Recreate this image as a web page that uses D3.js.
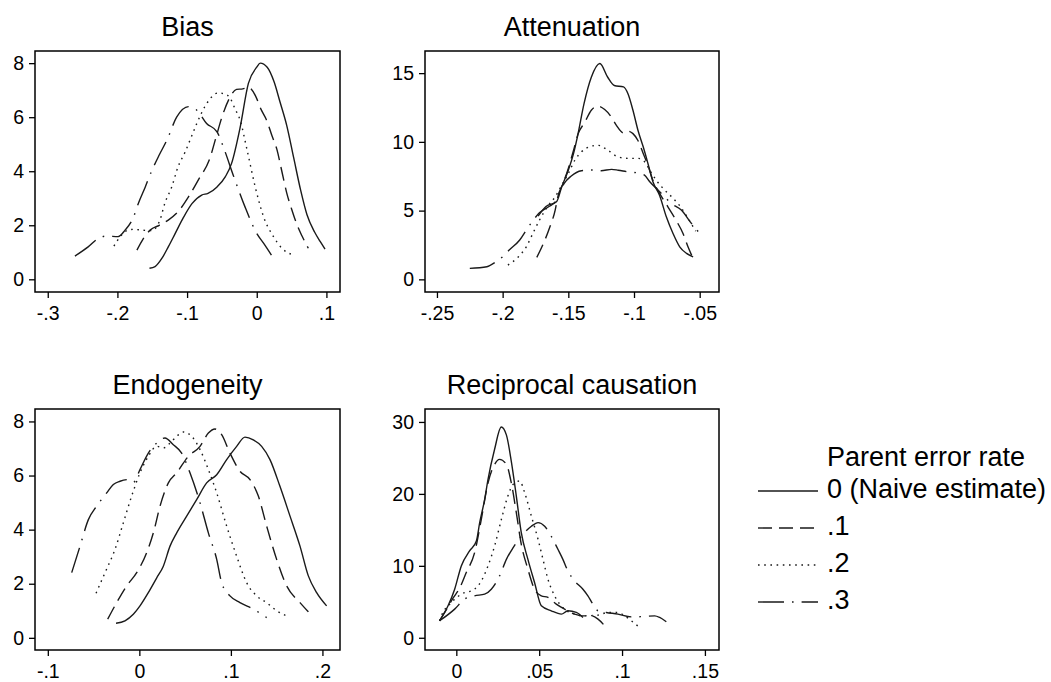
<!DOCTYPE html>
<html lang="en">
<head>
<meta charset="utf-8">
<title>Kernel densities by parent error rate</title>
<script src="https://cdn.jsdelivr.net/npm/d3@7"></script>
<style>
  body { margin: 0; background: #fff; }
  svg { display: block; }
  text { font-family: "Liberation Sans", Arial, Helvetica, sans-serif; fill: #000; }
  .tick text { font-size: 19.5px; }
  .tick line { stroke: #000; stroke-width: 1.3px; }
  .title { font-size: 27px; text-anchor: middle; }
  .legend text { font-size: 27px; }
</style>
</head>
<body>
<script>

// Size of the whole picture
var w = 1051;
var h = 682;

// Series labels (parent error rate)
var rateLabels = ["0 (Naive estimate)", ".1", ".2", ".3"];
var legendTitle = "Parent error rate";
var panelTitles = ["Bias", "Attenuation", "Endogeneity", "Reciprocal causation"];

// Bias: [estimate, density]
var biasRate0 = [[-0.154,0.41],[-0.146,0.47],[-0.136,0.78],[-0.127,1.2],[-0.117,1.7],[-0.105,2.3],[-0.093,2.8],[-0.079,3.12],[-0.07,3.18],[-0.057,3.42],[-0.045,3.8],[-0.036,4.3],[-0.024,5.6],[-0.012,7.25],[0.0,7.85],[0.005,8.0],[0.015,7.85],[0.025,7.3],[0.033,6.6],[0.043,5.7],[0.053,4.5],[0.063,3.3],[0.072,2.4],[0.083,1.75],[0.091,1.4],[0.098,1.12]];
var biasRate1 = [[-0.172,1.08],[-0.163,1.5],[-0.153,1.82],[-0.14,2.0],[-0.127,2.19],[-0.113,2.5],[-0.098,3.05],[-0.084,3.67],[-0.067,4.5],[-0.058,5.3],[-0.05,6.0],[-0.038,6.76],[-0.029,7.03],[-0.02,7.05],[-0.012,7.1],[-0.002,6.8],[0.006,6.3],[0.014,5.9],[0.022,5.3],[0.029,4.8],[0.036,4.0],[0.043,3.2],[0.05,2.6],[0.057,2.07],[0.065,1.6],[0.074,1.15]];
var biasRate2 = [[-0.205,1.23],[-0.194,1.64],[-0.185,1.82],[-0.177,1.85],[-0.165,1.82],[-0.151,1.8],[-0.139,2.19],[-0.132,2.81],[-0.122,3.42],[-0.113,4.16],[-0.103,4.7],[-0.095,5.2],[-0.086,5.77],[-0.072,6.5],[-0.055,6.9],[-0.045,6.85],[-0.038,6.7],[-0.031,6.3],[-0.024,5.9],[-0.014,4.8],[-0.002,3.4],[0.01,2.3],[0.024,1.58],[0.036,1.15],[0.05,0.92]];
var biasRate3 = [[-0.261,0.86],[-0.242,1.2],[-0.227,1.52],[-0.215,1.6],[-0.199,1.58],[-0.189,1.82],[-0.177,2.3],[-0.17,2.81],[-0.16,3.42],[-0.151,4.0],[-0.14,4.6],[-0.129,5.15],[-0.115,6.0],[-0.098,6.39],[-0.086,6.26],[-0.072,5.77],[-0.057,5.46],[-0.048,4.9],[-0.033,3.8],[-0.017,2.69],[0.0,1.7],[0.01,1.33],[0.022,0.86]];

// Attenuation
var attenRate0 = [[-0.173,4.6],[-0.167,5.3],[-0.159,5.64],[-0.155,6.73],[-0.15,7.94],[-0.146,9.16],[-0.143,10.4],[-0.138,12.8],[-0.1325,14.7],[-0.126,15.7],[-0.12,14.7],[-0.115,14.1],[-0.108,14.0],[-0.1046,13.5],[-0.1008,12.3],[-0.097,10.85],[-0.093,9.64],[-0.0894,8.43],[-0.0856,7.1],[-0.0805,6.1],[-0.0754,4.55],[-0.0703,3.34],[-0.0652,2.37],[-0.06,1.89],[-0.055,1.64]];
var attenRate1 = [[-0.174,1.6],[-0.169,2.6],[-0.164,3.82],[-0.16,5.04],[-0.158,6.0],[-0.154,6.98],[-0.15,8.07],[-0.146,9.4],[-0.1425,10.6],[-0.1376,11.4],[-0.1325,12.3],[-0.1274,12.6],[-0.1223,12.35],[-0.1172,11.8],[-0.1134,11.2],[-0.108,10.65],[-0.1046,10.78],[-0.1008,10.6],[-0.097,10.1],[-0.093,9.16],[-0.0894,8.3],[-0.0856,7.2],[-0.0805,6.25],[-0.0742,5.28],[-0.068,4.3],[-0.0627,3.34],[-0.0589,2.37],[-0.0559,1.7]];
var attenRate2 = [[-0.196,1.04],[-0.188,1.64],[-0.182,2.37],[-0.177,3.34],[-0.172,4.3],[-0.165,5.4],[-0.16,6.0],[-0.155,6.85],[-0.15,7.7],[-0.145,8.67],[-0.14,9.27],[-0.132,9.7],[-0.1274,9.75],[-0.12,9.4],[-0.112,8.9],[-0.1046,8.8],[-0.097,8.8],[-0.0919,8.55],[-0.088,7.94],[-0.083,7.2],[-0.0767,6.5],[-0.0703,5.9],[-0.064,5.2],[-0.058,4.3],[-0.053,3.5]];
var attenRate3 = [[-0.225,0.8],[-0.212,0.92],[-0.205,1.28],[-0.2,1.64],[-0.195,2.13],[-0.187,2.86],[-0.182,3.58],[-0.177,4.26],[-0.172,4.84],[-0.165,5.28],[-0.16,5.64],[-0.157,6.25],[-0.153,7.0],[-0.148,7.5],[-0.14,7.9],[-0.132,7.95],[-0.125,7.9],[-0.117,8.0],[-0.112,7.94],[-0.1046,7.82],[-0.098,7.75],[-0.092,7.58],[-0.088,7.1],[-0.0818,6.5],[-0.0767,6.0],[-0.0716,5.52],[-0.064,5.04],[-0.0563,4.07],[-0.0487,3.2]];

// Endogeneity
var endoRate0 = [[-0.0255,0.54],[-0.0157,0.63],[-0.0066,0.87],[0.0007,1.18],[0.0098,1.67],[0.019,2.22],[0.0262,2.65],[0.0335,3.39],[0.0408,3.88],[0.0517,4.5],[0.0626,5.11],[0.0735,5.73],[0.0845,6.03],[0.0954,6.59],[0.1063,7.08],[0.1154,7.42],[0.1245,7.32],[0.1336,7.08],[0.1427,6.59],[0.1536,5.6],[0.1646,4.5],[0.1755,3.39],[0.1846,2.29],[0.1937,1.67],[0.2046,1.18]];
var endoRate1 = [[-0.0346,0.69],[-0.0248,1.3],[-0.0138,1.92],[-0.0029,2.41],[0.008,3.15],[0.0153,3.88],[0.0226,4.87],[0.0317,5.73],[0.0408,6.1],[0.0535,6.71],[0.0663,7.08],[0.0754,7.57],[0.0826,7.72],[0.0899,7.51],[0.099,6.83],[0.1099,6.16],[0.1209,5.85],[0.13,5.24],[0.1391,4.13],[0.15,2.9],[0.1609,1.92],[0.1755,1.3],[0.1846,0.96]];
var endoRate2 = [[-0.0473,1.65],[-0.0375,2.41],[-0.0266,3.27],[-0.0175,4.25],[-0.0084,5.24],[0.0007,6.1],[0.0098,6.71],[0.0189,7.08],[0.0262,7.02],[0.0335,7.2],[0.0408,7.45],[0.0481,7.61],[0.0572,7.45],[0.0663,6.96],[0.0754,6.22],[0.0845,5.36],[0.0954,4.13],[0.1063,3.02],[0.1172,2.04],[0.1282,1.55],[0.1391,1.3],[0.15,1.0],[0.1609,0.81]];
var endoRate3 = [[-0.0739,2.41],[-0.0648,3.39],[-0.0557,4.37],[-0.0466,4.87],[-0.0357,5.36],[-0.0284,5.67],[-0.0211,5.79],[-0.012,5.85],[-0.0066,5.75],[0.0007,6.22],[0.0098,6.83],[0.0189,7.2],[0.028,7.39],[0.0371,7.14],[0.0462,6.83],[0.0553,6.1],[0.0663,4.99],[0.0754,3.88],[0.0845,2.9],[0.0899,2.04],[0.099,1.55],[0.1099,1.3],[0.1245,1.06],[0.1391,0.75]];

// Reciprocal causation
var recipRate0 = [[-0.0101,2.36],[-0.005,4.44],[-0.001,6.75],[0.003,9.99],[0.008,12.07],[0.0121,13.45],[0.0141,16.0],[0.0171,19.24],[0.0191,22.0],[0.0231,26.2],[0.0271,29.3],[0.0302,28.2],[0.0332,24.5],[0.0362,19.7],[0.0392,14.6],[0.0432,10.9],[0.0472,7.68],[0.0513,4.44],[0.0573,3.75],[0.0634,3.29],[0.0673,3.75],[0.0724,3.52],[0.0764,2.83]];
var recipRate1 = [[-0.0101,2.36],[-0.006,3.9],[-0.002,5.5],[0.002,6.9],[0.006,9.06],[0.011,11.8],[0.0151,16.5],[0.0191,21.5],[0.0231,24.1],[0.0261,24.8],[0.0302,24.1],[0.0332,21.5],[0.0362,17.4],[0.0392,13.0],[0.0432,9.53],[0.0472,6.75],[0.0513,5.83],[0.0553,5.6],[0.0603,4.67],[0.0653,3.98],[0.0714,3.29],[0.0754,3.05],[0.0815,3.05],[0.0855,2.59],[0.0895,1.66]];
var recipRate2 = [[-0.0101,2.36],[-0.009,3.05],[-0.003,4.9],[0.003,6.06],[0.011,6.75],[0.0151,7.9],[0.0191,9.99],[0.0231,12.76],[0.0272,16.46],[0.0311,19.7],[0.0342,21.3],[0.0382,21.8],[0.0412,20.2],[0.0453,16.9],[0.0493,13.7],[0.0523,10.9],[0.0553,8.14],[0.0593,5.83],[0.0653,3.98],[0.0714,3.29],[0.0774,3.05],[0.0855,3.15],[0.0915,3.52],[0.0975,3.52],[0.1016,3.05],[0.1056,2.36],[0.1106,1.44]];
var recipRate3 = [[-0.0101,2.36],[-0.001,3.98],[0.005,5.37],[0.011,5.83],[0.0171,6.06],[0.0211,6.75],[0.0261,8.6],[0.0302,10.9],[0.0342,12.5],[0.0392,14.1],[0.0453,15.5],[0.0493,16.0],[0.0533,15.5],[0.0573,14.1],[0.0613,12.3],[0.0643,10.9],[0.0673,9.3],[0.0714,7.9],[0.0764,6.75],[0.0794,5.83],[0.0824,4.67],[0.0855,3.75],[0.0905,3.52],[0.0975,3.29],[0.1056,2.91],[0.1136,2.96],[0.1197,3.05],[0.1227,2.83],[0.1267,2.22]];

// Tick values and axis ranges
var biasXTicks = [-0.3, -0.2, -0.1, 0, 0.1];
var biasYTicks = [0, 2, 4, 6, 8];
var biasXRange = [-0.3183, 0.1195];
var biasYRange = [-0.47, 8.45];
var attenXTicks = [-0.25, -0.2, -0.15, -0.1, -0.05];
var attenYTicks = [0, 5, 10, 15];
var attenXRange = [-0.2591, -0.0353];
var attenYRange = [-0.92, 16.61];
var endoXTicks = [-0.1, 0, 0.1, 0.2];
var endoYTicks = [0, 2, 4, 6, 8];
var endoXRange = [-0.114, 0.2192];
var endoYRange = [-0.45, 8.46];
var recipXTicks = [0, 0.05, 0.1, 0.15];
var recipYTicks = [0, 10, 20, 30];
var recipXRange = [-0.0189, 0.1585];
var recipYRange = [-1.7, 31.8];

// Line look per series: solid, dash, dot, dash-dot
var rateDash = [null, "14,7", "1.6,4.6", "26,8,1.6,8"];

// Panel placement (right column is a bit narrower, wider y labels)
var colLeft = [35, 425];
var colWidth = [305, 294];
var rowTop = [51, 409];
var plotH = 241;

var panels = [
	{ title: panelTitles[0], series: [biasRate0, biasRate1, biasRate2, biasRate3], xTicks: biasXTicks, yTicks: biasYTicks, xRange: biasXRange, yRange: biasYRange },
	{ title: panelTitles[1], series: [attenRate0, attenRate1, attenRate2, attenRate3], xTicks: attenXTicks, yTicks: attenYTicks, xRange: attenXRange, yRange: attenYRange },
	{ title: panelTitles[2], series: [endoRate0, endoRate1, endoRate2, endoRate3], xTicks: endoXTicks, yTicks: endoYTicks, xRange: endoXRange, yRange: endoYRange },
	{ title: panelTitles[3], series: [recipRate0, recipRate1, recipRate2, recipRate3], xTicks: recipXTicks, yTicks: recipYTicks, xRange: recipXRange, yRange: recipYRange }
];

// Stata style numbers: .1 instead of 0.1
function stataFmt(d) {
	var s = String(+d.toFixed(3));
	return s.replace(/^(-?)0\./, "$1.");
}

var svg = d3.select("body")
	.append("svg")
	.attr("width", w)
	.attr("height", h);

svg.append("rect")
	.attr("width", w)
	.attr("height", h)
	.attr("fill", "#fff");

panels.forEach(function(p, i) {
	var left = colLeft[i % 2];
	var plotW = colWidth[i % 2];
	var top = rowTop[Math.floor(i / 2)];

	var x = d3.scaleLinear().domain(p.xRange).range([0, plotW]);
	var y = d3.scaleLinear().domain(p.yRange).range([plotH, 0]);

	var g = svg.append("g")
		.attr("transform", "translate(" + left + "," + top + ")");

	g.append("text")
		.attr("class", "title")
		.attr("x", plotW / 2)
		.attr("y", -15)
		.text(p.title);

	//axes, domain line is replaced by the frame
	g.append("g")
		.attr("transform", "translate(0," + plotH + ")")
		.call(d3.axisBottom(x).tickValues(p.xTicks).tickFormat(stataFmt).tickSize(6).tickPadding(8))
		.call(function(a) { a.select(".domain").remove(); });

	g.append("g")
		.call(d3.axisLeft(y).tickValues(p.yTicks).tickFormat(stataFmt).tickSize(6).tickPadding(5))
		.call(function(a) { a.select(".domain").remove(); });

	g.append("rect")
		.attr("width", plotW)
		.attr("height", plotH)
		.attr("fill", "none")
		.attr("stroke", "#000")
		.attr("stroke-width", 1.5);

	var line = d3.line()
		.x(function(d) { return x(d[0]); })
		.y(function(d) { return y(d[1]); })
		.curve(d3.curveMonotoneX);

	g.selectAll("path.curve")
		.data(p.series)
		.enter()
		.append("path")
		.attr("class", "curve")
		.attr("d", line)
		.attr("fill", "none")
		.attr("stroke", "#1a1a1a")
		.attr("stroke-width", 1.4)
		.attr("stroke-dasharray", function(d, k) { return rateDash[k]; });
});

// Legend
var legend = svg.append("g")
	.attr("class", "legend")
	.attr("transform", "translate(758,0)");

legend.append("text")
	.attr("x", 69)
	.attr("y", 466)
	.text(legendTitle);

var rowY = d3.scalePoint().domain(d3.range(rateLabels.length)).range([491, 602]);

legend.selectAll("line")
	.data(rateLabels)
	.enter()
	.append("line")
	.attr("x1", 0)
	.attr("x2", 60)
	.attr("y1", function(d, i) { return rowY(i); })
	.attr("y2", function(d, i) { return rowY(i); })
	.attr("stroke", "#1a1a1a")
	.attr("stroke-width", 1.4)
	.attr("stroke-dasharray", function(d, i) { return rateDash[i]; });

legend.selectAll("text.item")
	.data(rateLabels)
	.enter()
	.append("text")
	.attr("class", "item")
	.attr("x", 69)
	.attr("y", function(d, i) { return rowY(i) + 7; })
	.text(function(d) { return d; });

</script>
</body>
</html>
